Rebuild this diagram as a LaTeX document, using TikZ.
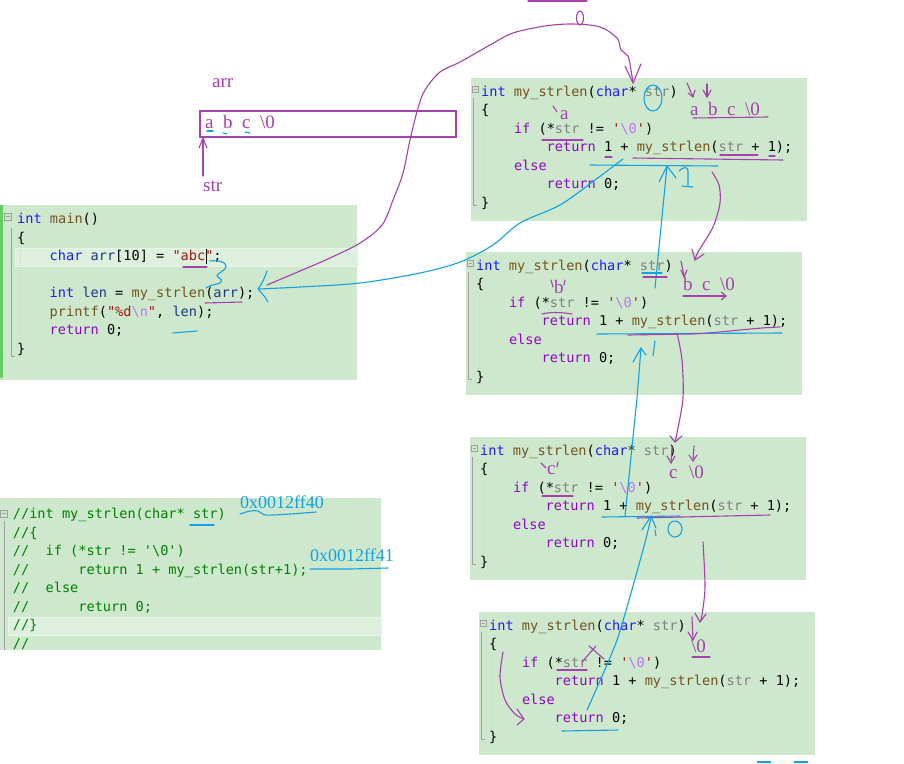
\documentclass[tikz,border=0pt]{standalone}
\usepackage{fontspec}
\setmonofont{DejaVu Sans Mono}
\newfontfamily\notefont{Liberation Serif}
\usetikzlibrary{arrows.meta}
\definecolor{panel}{RGB}{205,232,205}
\definecolor{panelhi}{RGB}{221,239,221}
\definecolor{barg}{RGB}{100,205,100}
\definecolor{ckw}{RGB}{30,30,245}
\definecolor{cfn}{RGB}{116,83,31}
\definecolor{cpar}{RGB}{128,128,128}
\definecolor{cctl}{RGB}{143,8,196}
\definecolor{cstr}{RGB}{163,21,21}
\definecolor{cesc}{RGB}{183,118,251}
\definecolor{cvar}{RGB}{31,55,127}
\definecolor{ccom}{RGB}{0,128,0}
\definecolor{ink}{RGB}{165,65,170}
\definecolor{blueink}{RGB}{20,160,225}
\newcommand\kwA[1]{\textcolor{ckw}{#1}}
\newcommand\fnA[1]{\textcolor{cfn}{#1}}
\newcommand\parA[1]{\textcolor{cpar}{#1}}
\newcommand\ctlA[1]{\textcolor{cctl}{#1}}
\newcommand\strA[1]{\textcolor{cstr}{#1}}
\newcommand\escA[1]{\textcolor{cesc}{#1}}
\newcommand\varA[1]{\textcolor{cvar}{#1}}
\newcommand\gap{\hspace{0.5em}}
\tikzset{
  panelbox/.style={fill=panel, draw=none, anchor=north west, inner sep=0pt, outer sep=0pt},
  hiband/.style={fill=panelhi, draw=white!55!panel, line width=0.8pt, anchor=north west, inner sep=0pt},
  code/.style={font=\ttfamily\fontsize{13.6}{16}\selectfont, anchor=base west, inner sep=0pt},
  comm/.style={code, text=ccom},
  note/.style={font=\notefont\fontsize{19}{22}\selectfont, text=ink, anchor=base west, inner sep=0pt},
  bnote/.style={font=\notefont\fontsize{18}{21}\selectfont, text=blueink, anchor=base west, inner sep=0pt},
  guide/.style={draw=gray!75, line width=0.8pt},
  guideline/.style={draw=gray!40, line width=0.7pt, dash pattern=on 1pt off 1.5pt},
  pen/.style={draw=ink, line width=1.1pt, line cap=round, line join=round},
  bpen/.style={draw=blueink, line width=1.1pt, line cap=round, line join=round},
}
\newcommand\fnbox[3]{%
\begin{scope}[shift={(#1,#2)}]
\node[panelbox, minimum width=336pt, minimum height=143pt] (#3) at (0,0) {};
\draw[guide] (1,8) rectangle (7,14); \draw[guide] (2.5,11) -- (5.5,11);
\draw[guide] (2.5,20) -- (2.5,127) -- (6,127);
\draw[guideline] (13,43) -- (13,118);
\node[code] (#3a) at (10,18) {\kwA{int} \fnA{my\_strlen}(\kwA{char}* \parA{str})};
\node[code] (#3b) at (10,36.5) {\{};
\node[code] (#3c) at (42.8,55) {\ctlA{if} (*\parA{str} != \strA{\textquotesingle}\escA{\textbackslash 0}\strA{\textquotesingle})};
\node[code] (#3d) at (75.5,73.5) {\ctlA{return} 1 + \fnA{my\_strlen}(\parA{str} + 1);};
\node[code] (#3e) at (42.8,92) {\ctlA{else}};
\node[code] (#3f) at (75.5,110.5) {\ctlA{return} 0;};
\node[code] (#3g) at (10,129) {\}};
\end{scope}}
\begin{document}
\begin{tikzpicture}[x=1pt,y=-1pt]
\useasboundingbox (0,0) rectangle (904,763);
\fill[white] (0,0) rectangle (904,763);

% ---------- array sketch ----------
\node[note] (arrlbl) at (212,87) {arr};
\node[draw=ink, line width=1.8pt, minimum width=256pt, minimum height=26pt, anchor=north west, inner sep=0pt] (arrbox) at (199,110) {};
\node[note] (arrtxt) at (205,128.5) {a\gap b\gap c\gap\textbackslash 0};
\node[note] (strlbl) at (203,191) {str};
\draw[pen] (203,176) -- (203,139);
\draw[pen] (199,148) -- (203,138) -- (207,148);
\draw[bpen] (207,131) -- (213,131);
\draw[bpen] (223,133) -- (227,134);
\draw[bpen] (245,132) -- (250,133);

% ---------- main ----------
\node[panelbox, minimum width=357pt, minimum height=175pt] (mainbox) at (0,205) {};
\fill[barg] (0,205) rectangle (2.5,378);
\node[hiband, minimum width=342pt, minimum height=18pt] (mainhi) at (15,248) {};
\draw[guide] (4,213) rectangle (11,220); \draw[guide] (5.5,216.5) -- (9.5,216.5);
\draw[guide] (11,228) -- (11,356) -- (15,356);
\draw[guideline] (20,250) -- (20,340);
\node[code] (m1) at (17,223.5) {\kwA{int} \fnA{main}()};
\node[code] (m2) at (17,242) {\{};
\node[code] (m3) at (49.5,260.5) {\kwA{char} \varA{arr}[10] = \strA{\textquotedbl abc\textquotedbl};};
\node[code] (m5) at (49.5,297.5) {\kwA{int} \varA{len} = \fnA{my\_strlen}(\varA{arr});};
\node[code] (m6) at (49.5,316) {\fnA{printf}(\strA{\textquotedbl\%d}\escA{\textbackslash n}\strA{\textquotedbl}, \varA{len});};
\node[code] (m7) at (49.5,334.5) {\ctlA{return} 0;};
\node[code] (m8) at (17,353) {\}};
\draw[black, line width=0.9pt] (206.5,249) -- (206.5,264);
% main annotations
\draw[pen] (183,267) -- (207,267);
\draw[bpen] (210,261) .. controls (218,260) and (227,262) .. (226,267) .. controls (225,271) and (217,273) .. (217,276) .. controls (218,278) and (223,279) .. (221,282) .. controls (219,285) and (210,284) .. (206,288);
\draw[pen] (205,303) -- (242,302);
\draw[bpen] (173,333) -- (197,331);
\draw[bpen] (267,271) .. controls (265,277) and (262,284) .. (258,289) -- (265,297) -- (268,302);

% ---------- commented copy ----------
\node[panelbox, minimum width=381pt, minimum height=152pt] (cbox) at (0,498) {};
\node[hiband, minimum width=373pt, minimum height=18pt] (chi) at (8,617) {};
\draw[guide] (0,510) rectangle (7,517); \draw[guide] (1.5,513.5) -- (5.5,513.5);
\draw[guide] (4.5,521) -- (4.5,650);
\node[comm] (c1) at (12.7,518.5) {//int my\_strlen(char* str)};
\node[comm] (c2) at (12.7,537) {//\{};
\node[comm] (c3) at (12.7,555.5) {//~~if (*str != \textquotesingle\textbackslash 0\textquotesingle)};
\node[comm] (c4) at (12.7,574) {//~~~~~~return 1 + my\_strlen(str+1);};
\node[comm] (c5) at (12.7,592.5) {//~~else};
\node[comm] (c6) at (12.7,611) {//~~~~~~return 0;};
\node[comm] (c7) at (12.7,629.5) {//\}};
\node[comm] (c8) at (12.7,648) {//};
\node[bnote] (addr1) at (240,508) {0x0012ff40};
\draw[bpen] plot[smooth] coordinates {(240,514) (250,511) (258,511) (266,515) (290,514) (316,512)};
\draw[bpen] (190,525) -- (214,525);
\node[bnote] (addr2) at (310,561) {0x0012ff41};
\draw[bpen] (310,569) -- (350,569) -- (388,568);

% ---------- recursive frames ----------
\fnbox{471}{78}{fa}
\fnbox{466}{252}{fb}
\fnbox{470}{437}{fc}
\fnbox{479}{612}{fd}

% call arrow main -> frame 1
\coordinate (callS) at (267,285);
\coordinate (callE) at (633,83);
\draw[pen] plot[smooth, tension=0.55] coordinates {(callS) (300,271) (330,258) (360,243) (382,225) (393,200) (403,173) (410,140) (418,108) (425,90) (440,72) (460,62) (490,45) (513,33) (545,26) (573,24) (600,27) (617,38) (621,50) (628,56) (631,70) (callE)};
\draw[pen] (625,66) -- (633,83) -- (641,64);
\draw[pen] (528,1) -- (587,1);
\draw[pen] (580,18) ellipse (3.5 and 7);

% return arrow frame 1 -> main
\coordinate (retS) at (623,159);
\coordinate (retE) at (259,289);
\draw[bpen] plot[smooth, tension=0.55] coordinates {(retS) (595,180) (560,205) (520,223) (493,245) (460,262) (420,273) (360,283) (300,287) (retE)};

% frame 1 notes
\node[note] (fanote) at (690,115.5) {a\gap b\gap c\gap\textbackslash 0};
\draw[pen] (693,118) -- (768,117);
\draw[pen] (687,83) -- (693,97); \draw[pen] (688,93) -- (693,97) -- (695,90);
\draw[pen] (707,84) -- (707,97); \draw[pen] (703,90) -- (707,97) -- (711,90);
\draw[bpen] (653,98) ellipse (9 and 13);
\draw[pen] (553,106) -- (557,112);
\node[note] (faa) at (560,119) {a};
\draw[pen] (542,140) -- (583,140);
\draw[pen] (605,157) -- (612,157);
\draw[pen] (633,158) -- (783,160);
\draw[pen] (720,155) -- (758,155);
\draw[pen] (769,156) -- (775,156);
\draw[bpen] (590,165) -- (718,166);
\draw[bpen] (659,182) -- (667,166) -- (676,178);
\draw[bpen] (679,171) .. controls (683,167) and (688,166) .. (688,171) -- (688,185);
\draw[bpen] (682,186) -- (693,187);

% call arrow frame 1 -> frame 2
\coordinate (c12S) at (712,172);
\coordinate (c12E) at (695,260);
\draw[pen] plot[smooth] coordinates {(c12S) (719,185) (720,203) (713,227) (698,252) (c12E)};
\draw[pen] (692,249) -- (c12E) -- (704,254);

% return frame 2 -> frame 1
\coordinate (r21S) at (655,288);
\coordinate (r21E) at (667,166);
\draw[bpen] (r21S) -- (r21E);
\draw[bpen] (655,341) -- (653,356);

% frame 2 notes
\draw[pen] (681,261) -- (684,276); \draw[pen] (681,270) -- (684,277) -- (687,270);
\node[note] (fbnote) at (683,290) {b\gap c\gap\textbackslash 0};
\draw[pen, -{Straight Barb[length=5pt,width=8pt]}] (683,296) -- (727,296);
\draw[pen] (551,280) -- (553,287);
\node[note] (fbb) at (554,293) {b};
\draw[pen] (565,280) -- (564,285);
\draw[bpen] (642,273) -- (662,273);
\draw[pen] (643,277) -- (667,277);
\draw[pen] (542,314) .. controls (550,312) and (560,312) .. (572,314);
\draw[bpen] (597,334) -- (782,333);
\draw[pen] (628,335) -- (690,334) .. controls (720,333) and (750,328) .. (780,327);

% return frame 3 -> frame 2
\coordinate (r32S) at (625,516);
\coordinate (r32E) at (641,348);
\draw[bpen] (r32S) -- (637,398) -- (r32E);
\draw[bpen] (633,362) -- (r32E) -- (646,355);

% call frame 2 -> frame 3
\coordinate (c23S) at (677,333);
\coordinate (c23E) at (675,442);
\draw[pen] plot[smooth] coordinates {(c23S) (682,360) (683,398) (677,433) (c23E)};
\draw[pen] (670,436) -- (c23E) -- (682,436);

% frame 3 notes
\draw[bpen] (602,517) -- (680,516);
\draw[pen] (637,518) -- (770,515);
\draw[bpen] (642,530) -- (651,516) -- (656,528);
\draw[bpen] (655,530) -- (656,536);
\draw[bpen] (675,529) ellipse (7 and 8);
\draw[pen] (541,463) -- (546,468);
\node[note] (fcc) at (547,474) {c};
\draw[pen] (558,462) -- (557,467);
\draw[pen] (542,496) -- (573,496);
\node[note] (fcnote) at (669,478) {c};
\node[note] (fcnul) at (689,478) {\textbackslash 0};
\draw[pen] (672,447) -- (671,463); \draw[pen] (667,456) -- (671,463) -- (675,456);
\draw[pen] (694,446) -- (693,461); \draw[pen] (689,455) -- (693,461) -- (697,455);

% call frame 3 -> frame 4
\coordinate (c34S) at (703,542);
\coordinate (c34E) at (700,622);
\draw[pen] plot[smooth] coordinates {(c34S) (705,587) (702,615) (c34E)};
\draw[pen] (695,613) -- (c34E) -- (706,614);

% return frame 4 -> frame 3
\coordinate (r43S) at (587,710);
\coordinate (r43E) at (651,518);
\draw[bpen] plot[smooth, tension=0.4] coordinates {(r43S) (617,640) (643,550) (r43E)};

% frame 4 notes
\draw[pen] (692,617) -- (693,640); \draw[pen] (688,632) -- (693,640) -- (697,632);
\node[note] (fdnul) at (691,652) {\textbackslash 0};
\draw[pen] (692,657) -- (710,657);
\draw[pen] (582,662) -- (596,646);
\draw[pen] (589,646) -- (604,659);
\draw[pen] (557,670) -- (587,670);
\draw[pen] plot[smooth] coordinates {(503,652) (500,677) (505,700) (515,714) (524,719)};
\draw[pen] (517,709) -- (524,719) -- (517,725);
\draw[bpen] (562,731) -- (618,730);
\draw[blueink, line width=2pt] (757,762) -- (771,762);
\draw[blueink, line width=2pt] (794,762) -- (808,762);
\end{tikzpicture}
\end{document}
